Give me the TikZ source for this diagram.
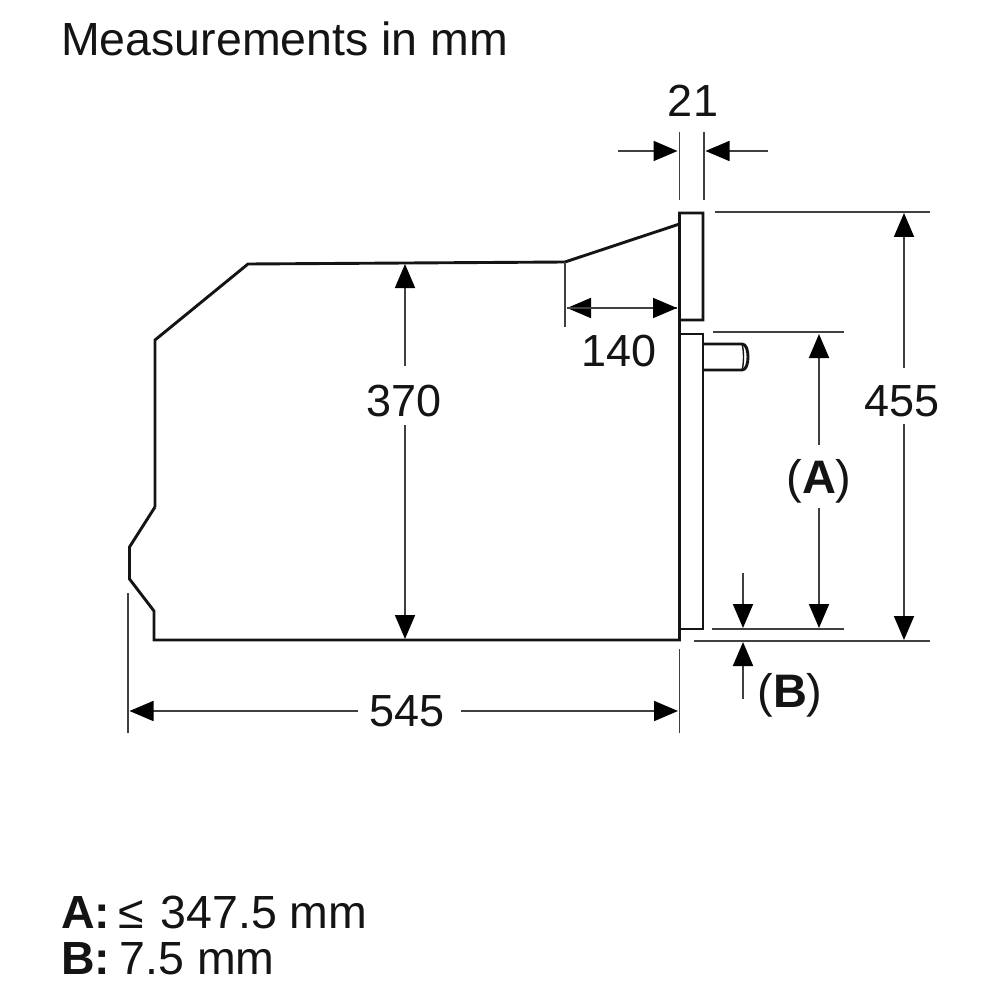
\documentclass[tikz,border=0pt]{standalone}
\usepackage{fontspec}
\setmainfont{Liberation Sans}
\usetikzlibrary{arrows.meta}
\tikzset{
  x=1pt,y=-1pt,
  outline/.style={draw=black!92,line width=2.9pt,line join=miter},
  thinline/.style={draw=black!75,line width=1.8pt},
  dimarrow/.style={draw=black!75,line width=1.8pt,-{Triangle[length=24pt,width=20pt,fill=black,color=black]}},
  txt/.style={inner sep=0pt,text=black!92,font=\fontsize{45}{45}\selectfont},
  ltxt/.style={inner sep=0pt,text=black!92,font=\fontsize{46.5}{46.5}\selectfont,anchor=base west},
  ptxt/.style={inner sep=0pt,text=black!92,font=\fontsize{47}{47}\selectfont},
}
\begin{document}
\begin{tikzpicture}
\useasboundingbox[fill=white] (0,0) rectangle (1000,1000);
% labels
\node[ltxt] (title) at (61,56) {Measurements in mm};
\node[txt] (t21) at (693,101) {21};
\node[txt] (t140) at (619,351) {140};
\node[txt] (t370) at (404,401) {370};
\node[txt] (t455) at (902,401) {455};
\node[ptxt] (tA) at (819,481) {(\textbf{A})};
\node[ptxt] (tB) at (790,695) {(\textbf{B})};
\node[txt] (t545) at (407,711) {545};
\node[ltxt] (la) at (61,928) {\textbf{A:}\hspace{-5pt} ≤\hspace{4pt} 347.5 mm};
\node[ltxt] (lb) at (61,974) {\textbf{B:}\hspace{-3.5pt} 7.5 mm};
% appliance
\draw[outline] (155,507) -- (155,340) -- (248,264) -- (565,262) -- (679.5,224);
\draw[outline] (155,507) -- (129.5,547) -- (129.5,579) -- (154,611) -- (154,640) -- (679.5,640) -- (679.5,213) -- (703,213) -- (703,320) -- (679.5,320);
\draw[outline] (679.5,334) -- (703,334) -- (703,629) -- (679.5,629);
\draw[outline] (703,344) -- (742,344) .. controls (746,344) and (748,350) .. (748,357) .. controls (748,364) and (746,370) .. (742,370) -- (703,370);
\draw[draw=black!92,line width=1.4pt] (742,344) .. controls (744,350) and (744,364) .. (742,370);
% extension lines
\coordinate (e21at) at (679.5,132); \coordinate (e21ab) at (679.5,200);
\coordinate (e21bt) at (703.7,132); \coordinate (e21bb) at (703.7,200);
\draw[thinline] (e21at) -- (e21ab);
\draw[thinline] (e21bt) -- (e21bb);
\coordinate (top1) at (715,212); \coordinate (top2) at (930,212);
\draw[thinline] (top1) -- (top2);
\coordinate (bot1) at (694,641); \coordinate (bot2) at (930,641);
\draw[thinline] (bot1) -- (bot2);
\coordinate (at1) at (713,332); \coordinate (at2) at (844,332);
\draw[thinline] (at1) -- (at2);
\coordinate (ab1) at (712,629); \coordinate (ab2) at (844,629);
\draw[thinline] (ab1) -- (ab2);
\coordinate (e140t) at (565,262); \coordinate (e140b) at (565,327);
\draw[thinline] (e140t) -- (e140b);
\coordinate (e545lt) at (128,593); \coordinate (e545lb) at (128,733);
\draw[thinline] (e545lt) -- (e545lb);
\coordinate (e545rt) at (679.5,649); \coordinate (e545rb) at (679.5,733);
\draw[thinline] (e545rt) -- (e545rb);
% dimension arrows
\coordinate (a21ls) at (618,151); \coordinate (a21lt) at (677.5,151);
\draw[dimarrow] (a21ls) -- (a21lt);
\coordinate (a21rs) at (768,151); \coordinate (a21rt) at (705.5,151);
\draw[dimarrow] (a21rs) -- (a21rt);
\coordinate (a140l) at (567,308); \coordinate (a140r) at (677,308);
\draw[dimarrow] (a140r) -- (a140l);
\draw[dimarrow] (a140l) -- (a140r);
\coordinate (a370t) at (405,264); \coordinate (a370u) at (405,366);
\coordinate (a370d) at (405,425); \coordinate (a370b) at (405,639);
\draw[dimarrow] (a370u) -- (a370t);
\draw[dimarrow] (a370d) -- (a370b);
\coordinate (a455t) at (904,213); \coordinate (a455u) at (904,368);
\coordinate (a455d) at (904,424); \coordinate (a455b) at (904,640);
\draw[dimarrow] (a455u) -- (a455t);
\draw[dimarrow] (a455d) -- (a455b);
\coordinate (aAt) at (819,334); \coordinate (aAu) at (819,445);
\coordinate (aAd) at (819,508); \coordinate (aAb) at (819,628);
\draw[dimarrow] (aAu) -- (aAt);
\draw[dimarrow] (aAd) -- (aAb);
\coordinate (aBds) at (743,573); \coordinate (aBdt) at (743,628);
\draw[dimarrow] (aBds) -- (aBdt);
\coordinate (aBus) at (743,699); \coordinate (aBut) at (743,642);
\draw[dimarrow] (aBus) -- (aBut);
\coordinate (a545l) at (129.5,711); \coordinate (a545ls) at (358,711);
\coordinate (a545r) at (678,711); \coordinate (a545rs) at (461,711);
\draw[dimarrow] (a545ls) -- (a545l);
\draw[dimarrow] (a545rs) -- (a545r);
\end{tikzpicture}
\end{document}
